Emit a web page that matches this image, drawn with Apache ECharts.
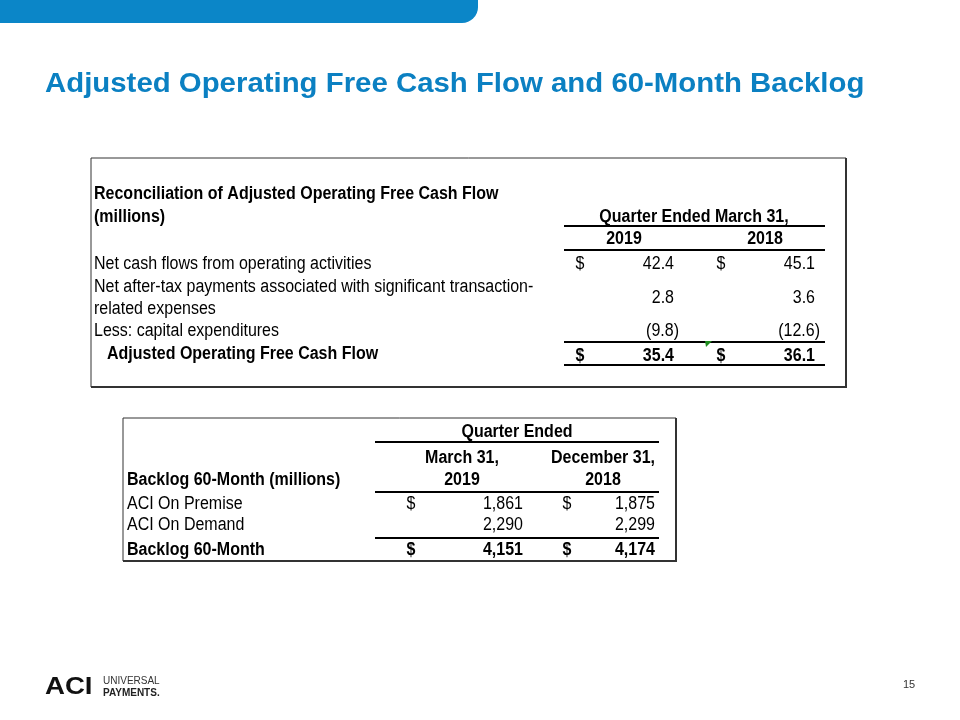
<!DOCTYPE html>
<html>
<head>
<meta charset="utf-8">
<script src="https://cdn.jsdelivr.net/npm/echarts@6/dist/echarts.min.js"></script>
<style>
  html, body { margin: 0; padding: 0; background: #fff; }
  #main { width: 960px; height: 720px; }
</style>
</head>
<body>
<div id="main"></div>
<script>
// 表1：调整后经营自由现金流
const cashFlowLabels = [
  'Net cash flows from operating activities',
  'Net after-tax payments associated with significant transaction-\nrelated expenses',
  'Less: capital expenditures'
];
const cashFlowYears = ['2019', '2018'];
const cashFlow2019 = [42.4, 2.8, -9.8];
const cashFlow2018 = [45.1, 3.6, -12.6];
const cashFlowTotal = [35.4, 36.1];

// 表2：60个月积压
const backlogHeads = ['March 31,\n2019', 'December 31,\n2018'];
const backlogLabels = ['ACI On Premise', 'ACI On Demand'];
const backlog2019 = [1861, 2290];
const backlog2018 = [1875, 2299];
const backlogTotal = [4151, 4174];

const FONT = 'Liberation Sans, Arial, sans-serif';
const items = [];

function txt(s, x, y, opt) {
  opt = opt || {};
  const size = opt.size || 16;
  items.push({
    type: 'text', x: x, y: y,
    scaleX: opt.scaleX || 1,
    scaleY: opt.scaleY || (size === 16 ? 1.1 : 1),
    style: {
      text: s,
      font: (opt.bold ? 'bold ' : '') + size + 'px ' + FONT,
      fill: opt.color || '#000',
      align: opt.align || 'left',
      verticalAlign: opt.va || 'middle',
      lineHeight: opt.lh
    }
  });
}
function line(x1, y1, x2, y2, w, c) {
  items.push({
    type: 'line',
    shape: { x1: x1, y1: y1, x2: x2, y2: y2 },
    style: { stroke: c || '#000', lineWidth: w || 2 }
  });
}
function box(x, y, w, h) {
  items.push({ type: 'rect', shape: { x: x, y: y, width: w, height: h }, style: { fill: 'none', stroke: '#333', lineWidth: 1 } });
  line(x + w, y, x + w, y + h + 1, 2, '#333');
  line(x, y + h, x + w + 1, y + h, 2, '#333');
}
function fmt1(v) {
  return v < 0 ? '(' + Math.abs(v).toFixed(1) + ')' : v.toFixed(1);
}
function fmt0(v) {
  return v.toLocaleString('en-US');
}

// 顶部蓝条
items.push({ type: 'rect', shape: { x: -20, y: -20, width: 498, height: 43, r: [0, 0, 16, 0] }, style: { fill: '#0B86C8' } });
// 标题
txt('Adjusted Operating Free Cash Flow and 60-Month Backlog', 45, 85, { bold: true, size: 27, color: '#0B80C2', scaleX: 1.088 });

// ---------- 表1 ----------
box(91, 158, 755, 229);
txt('Reconciliation of Adjusted Operating Free Cash Flow', 94, 194, { bold: true });
txt('(millions)', 94, 217, { bold: true });
txt('Quarter Ended March 31,', 694, 217, { bold: true, align: 'center' });
line(564, 226, 825, 226);
const cfDollar = [580, 721];
const cfRight = [674, 815];
const cfYearX = [624, 765];
cashFlowYears.forEach(function (y, i) { txt(y, cfYearX[i], 239, { bold: true, align: 'center' }); });
line(564, 250, 825, 250);
const cfRowY = [264, 298, 331];
const cfCols = [cashFlow2019, cashFlow2018];
cashFlowLabels.forEach(function (lab, r) {
  txt(lab, 94, cfRowY[r], { lh: 20.5 });
  cfCols.forEach(function (col, c) {
    const v = col[r];
    if (r === 0) txt('$', cfDollar[c], cfRowY[r], { align: 'center' });
    txt(fmt1(v), cfRight[c] + (v < 0 ? 5 : 0), cfRowY[r], { align: 'right' });
  });
});
line(564, 342, 825, 342);
txt('Adjusted Operating Free Cash Flow', 107, 354, { bold: true });
cashFlowTotal.forEach(function (v, c) {
  txt('$', cfDollar[c], 356, { bold: true, align: 'center' });
  txt(fmt1(v), cfRight[c], 356, { bold: true, align: 'right' });
});
line(564, 365, 825, 365);
// 批注小三角
items.push({ type: 'polygon', shape: { points: [[705, 341], [712, 341], [706, 347]] }, style: { fill: '#1E8C1E' } });

// ---------- 表2 ----------
box(123, 418, 553, 143);
txt('Quarter Ended', 517, 432, { bold: true, align: 'center' });
line(375, 442, 659, 442);
const blHeadX = [462, 603];
backlogHeads.forEach(function (h, i) { txt(h, blHeadX[i], 469, { bold: true, align: 'center', lh: 20 }); });
txt('Backlog 60-Month (millions)', 127, 480, { bold: true });
line(375, 492, 659, 492);
const blDollar = [411, 567];
const blRight = [523, 655];
const blRowY = [504, 525];
const blCols = [backlog2019, backlog2018];
backlogLabels.forEach(function (lab, r) {
  txt(lab, 127, blRowY[r]);
  blCols.forEach(function (col, c) {
    if (r === 0) txt('$', blDollar[c], blRowY[r], { align: 'center' });
    txt(fmt0(col[r]), blRight[c], blRowY[r], { align: 'right' });
  });
});
line(375, 538, 659, 538);
txt('Backlog 60-Month', 127, 550, { bold: true });
backlogTotal.forEach(function (v, c) {
  txt('$', blDollar[c], 550, { bold: true, align: 'center' });
  txt(fmt0(v), blRight[c], 550, { bold: true, align: 'right' });
});

// ---------- 页脚 ----------
txt('ACI', 45, 687, { bold: true, size: 24, color: '#111', scaleX: 1.15 });
txt('UNIVERSAL', 103, 681, { size: 10, color: '#333' });
txt('PAYMENTS.', 103, 693, { bold: true, size: 10, color: '#222' });
txt('15', 909, 685, { size: 11, color: '#333', align: 'center' });

const myChart = echarts.init(document.getElementById('main'), null, { renderer: 'canvas' });
const option = {
  backgroundColor: '#fff',
  animation: false,
  graphic: { elements: items }
};
option && myChart.setOption(option);
</script>
</body>
</html>
